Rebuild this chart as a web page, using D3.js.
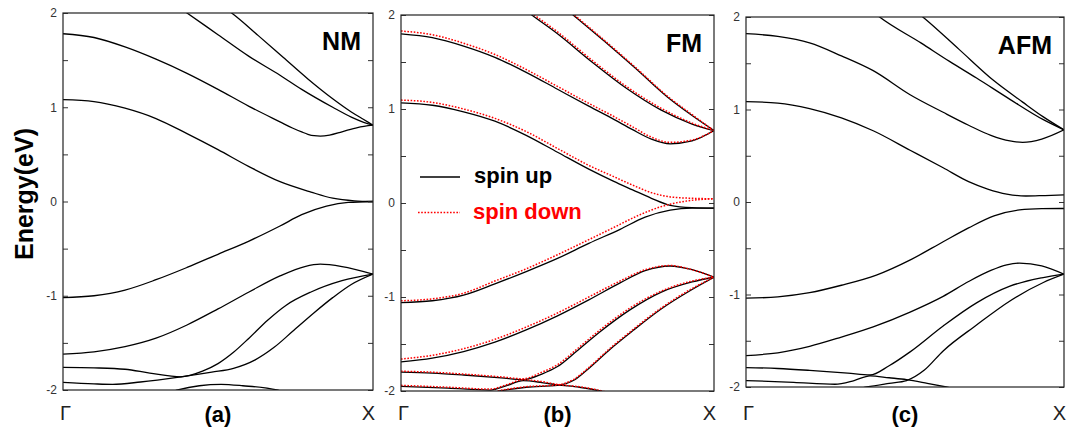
<!DOCTYPE html>
<html><head><meta charset="utf-8">
<script src="https://cdn.jsdelivr.net/npm/d3@7"></script>
<style>
html,body{margin:0;padding:0;background:#fff;}
svg{display:block;font-family:"Liberation Sans",Arial,sans-serif;}
</style></head>
<body><svg id="c" width="1067" height="430"></svg>
<script>
// ---------- data: [k (Γ=0 .. X=1), E (eV)] ----------
const yTicks = [-2,-1.5,-1,-0.5,0,0.5,1,1.5,2];
const kLabels = ["Γ","X"];
const panelNames = ["NM","FM","AFM"];
const panelTags = ["(a)","(b)","(c)"];
const legendLabels = ["spin up","spin down"];

const nmBands = [
 [[0,1.78],[0.1,1.74],[0.2,1.64],[0.3,1.51],[0.4,1.36],[0.5,1.19],[0.6,1.01],[0.7,0.845],[0.74,0.78],[0.77,0.738],[0.79,0.713],[0.81,0.698],[0.83,0.694],[0.86,0.705],[0.90,0.74],[0.95,0.785],[1,0.81]],
 [[0,1.08],[0.1,1.06],[0.2,0.99],[0.3,0.88],[0.4,0.72],[0.5,0.55],[0.6,0.37],[0.7,0.21],[0.8,0.10],[0.87,0.035],[0.94,0.007],[1,0]],
 [[0,-1.02],[0.1,-1.0],[0.2,-0.94],[0.3,-0.83],[0.4,-0.70],[0.5,-0.56],[0.6,-0.42],[0.7,-0.26],[0.77,-0.14],[0.85,-0.05],[0.92,-0.01],[1,0]],
 [[0,-1.62],[0.1,-1.595],[0.2,-1.54],[0.3,-1.45],[0.4,-1.31],[0.5,-1.14],[0.6,-0.96],[0.7,-0.79],[0.78,-0.69],[0.83,-0.665],[0.9,-0.69],[1,-0.77]],
 [[0,-1.76],[0.1,-1.765],[0.2,-1.78],[0.28,-1.82],[0.38,-1.86],[0.45,-1.80],[0.5,-1.72],[0.55,-1.60],[0.6,-1.45],[0.66,-1.26],[0.72,-1.10],[0.8,-0.96],[0.9,-0.84],[1,-0.77]],
 [[0,-1.92],[0.1,-1.935],[0.16,-1.94],[0.25,-1.915],[0.38,-1.86],[0.48,-1.81],[0.55,-1.77],[0.62,-1.68],[0.68,-1.55],[0.74,-1.38],[0.81,-1.18],[0.87,-1.02],[0.93,-0.88],[1,-0.77]],
 [[0.28,-2.1],[0.37,-2.0],[0.44,-1.955],[0.51,-1.94],[0.58,-1.955],[0.69,-2.0],[0.76,-2.07]],
 [[0.33,2.16],[0.40,2.0],[0.50,1.77],[0.60,1.54],[0.70,1.34],[0.77,1.19],[0.87,1.0],[0.93,0.895],[0.97,0.84],[1,0.81]],
 [[0.48,2.14],[0.544,2.0],[0.63,1.76],[0.71,1.53],[0.79,1.30],[0.87,1.09],[0.93,0.95],[0.97,0.87],[1,0.81]]
];

const fmUpBands = [
 [[0,1.80],[0.1,1.76],[0.2,1.67],[0.3,1.55],[0.4,1.39],[0.5,1.21],[0.6,1.03],[0.68,0.89],[0.74,0.78],[0.80,0.68],[0.86,0.63],[0.93,0.66],[1,0.77]],
 [[0,1.065],[0.1,1.04],[0.2,0.97],[0.3,0.87],[0.4,0.72],[0.5,0.54],[0.6,0.36],[0.68,0.23],[0.74,0.14],[0.80,0.05],[0.86,-0.025],[0.93,-0.05],[1,-0.055]],
 [[0,-1.06],[0.1,-1.04],[0.2,-0.98],[0.3,-0.86],[0.4,-0.73],[0.5,-0.59],[0.6,-0.43],[0.7,-0.28],[0.78,-0.15],[0.86,-0.075],[0.93,-0.055],[1,-0.055]],
 [[0,-1.69],[0.1,-1.65],[0.2,-1.58],[0.3,-1.48],[0.4,-1.35],[0.5,-1.20],[0.6,-1.03],[0.7,-0.85],[0.78,-0.72],[0.86,-0.67],[0.93,-0.71],[1,-0.79]],
 [[0,-1.80],[0.1,-1.81],[0.2,-1.83],[0.32,-1.86],[0.39,-1.88],[0.45,-1.82],[0.50,-1.74],[0.56,-1.58],[0.636,-1.37],[0.73,-1.14],[0.83,-0.95],[0.93,-0.84],[1,-0.79]],
 [[0,-1.95],[0.15,-1.97],[0.285,-1.99],[0.34,-1.94],[0.39,-1.89],[0.45,-1.91],[0.50,-1.935],[0.57,-1.96],[0.636,-2.0],[0.70,-2.05]],
 [[0.25,-2.06],[0.316,-2.0],[0.40,-1.96],[0.50,-1.94],[0.555,-1.88],[0.60,-1.76],[0.67,-1.55],[0.74,-1.36],[0.83,-1.13],[0.93,-0.92],[1,-0.79]],
 [[0.36,2.15],[0.418,2.0],[0.50,1.80],[0.61,1.50],[0.72,1.22],[0.83,0.99],[0.93,0.84],[1,0.77]],
 [[0.50,2.14],[0.55,2.0],[0.65,1.72],[0.75,1.43],[0.85,1.13],[0.93,0.93],[1,0.77]]
];

const fmDownBands = [
 [[0,1.83],[0.1,1.79],[0.2,1.70],[0.3,1.58],[0.4,1.42],[0.5,1.24],[0.6,1.06],[0.68,0.92],[0.74,0.81],[0.80,0.70],[0.86,0.645],[0.93,0.67],[1,0.77]],
 [[0,1.095],[0.1,1.07],[0.2,1.00],[0.3,0.90],[0.4,0.76],[0.5,0.58],[0.6,0.40],[0.68,0.28],[0.74,0.19],[0.80,0.11],[0.86,0.065],[0.93,0.05],[1,0.045]],
 [[0,-1.04],[0.1,-1.02],[0.2,-0.96],[0.3,-0.83],[0.4,-0.70],[0.5,-0.55],[0.6,-0.39],[0.68,-0.26],[0.76,-0.13],[0.83,-0.04],[0.91,0.02],[1,0.045]],
 [[0,-1.66],[0.1,-1.62],[0.2,-1.55],[0.3,-1.45],[0.4,-1.32],[0.5,-1.17],[0.6,-1.00],[0.7,-0.83],[0.78,-0.71],[0.86,-0.665],[0.93,-0.71],[1,-0.79]],
 [[0,-1.79],[0.1,-1.80],[0.2,-1.82],[0.32,-1.85],[0.39,-1.87],[0.45,-1.80],[0.50,-1.72],[0.56,-1.56],[0.636,-1.35],[0.73,-1.12],[0.83,-0.94],[0.93,-0.83],[1,-0.79]],
 [[0,-1.94],[0.15,-1.96],[0.285,-1.98],[0.34,-1.93],[0.39,-1.88],[0.45,-1.90],[0.50,-1.93],[0.57,-1.955],[0.636,-1.995],[0.70,-2.05]],
 [[0.25,-2.055],[0.316,-1.995],[0.40,-1.955],[0.50,-1.935],[0.555,-1.87],[0.60,-1.75],[0.67,-1.54],[0.74,-1.35],[0.83,-1.12],[0.93,-0.91],[1,-0.79]],
 [[0.36,2.17],[0.418,2.02],[0.50,1.82],[0.61,1.52],[0.72,1.24],[0.83,1.01],[0.93,0.85],[1,0.77]],
 [[0.50,2.15],[0.55,2.01],[0.65,1.73],[0.75,1.44],[0.85,1.14],[0.93,0.94],[1,0.77]]
];

const afmBands = [
 [[0,1.82],[0.1,1.79],[0.2,1.72],[0.3,1.58],[0.4,1.42],[0.516,1.16],[0.62,0.97],[0.70,0.83],[0.77,0.72],[0.83,0.66],[0.87,0.645],[0.93,0.68],[1,0.78]],
 [[0,1.086],[0.1,1.07],[0.2,1.01],[0.3,0.91],[0.4,0.77],[0.516,0.56],[0.62,0.37],[0.70,0.22],[0.76,0.14],[0.82,0.085],[0.88,0.065],[0.94,0.07],[1,0.076]],
 [[0,-1.04],[0.1,-1.025],[0.2,-0.98],[0.3,-0.90],[0.41,-0.79],[0.52,-0.62],[0.62,-0.43],[0.70,-0.28],[0.78,-0.15],[0.86,-0.085],[0.93,-0.072],[1,-0.07]],
 [[0,-1.66],[0.1,-1.63],[0.2,-1.56],[0.30,-1.46],[0.40,-1.35],[0.516,-1.19],[0.62,-1.02],[0.70,-0.86],[0.77,-0.74],[0.82,-0.68],[0.86,-0.66],[0.93,-0.69],[1,-0.78]],
 [[0,-1.79],[0.1,-1.80],[0.2,-1.82],[0.32,-1.85],[0.39,-1.87],[0.45,-1.77],[0.516,-1.62],[0.62,-1.34],[0.725,-1.09],[0.83,-0.91],[0.93,-0.82],[1,-0.78]],
 [[0,-1.93],[0.15,-1.95],[0.28,-1.97],[0.34,-1.93],[0.39,-1.88],[0.45,-1.90],[0.505,-1.92],[0.57,-1.96],[0.63,-2.0],[0.70,-2.05]],
 [[0.28,-2.07],[0.38,-2.0],[0.45,-1.96],[0.505,-1.93],[0.56,-1.82],[0.62,-1.61],[0.725,-1.33],[0.83,-1.07],[0.935,-0.87],[1,-0.78]],
 [[0.37,2.14],[0.42,2.0],[0.55,1.72],[0.64,1.52],[0.725,1.34],[0.83,1.11],[0.935,0.89],[1,0.78]],
 [[0.50,2.15],[0.556,2.0],[0.67,1.65],[0.78,1.31],[0.87,1.08],[0.935,0.92],[1,0.78]]
];

// ---------- layout ----------
const svg = d3.select("#c");
const panels = [
  {x0:63,  x1:373,  y0:13, y1:390, black:nmBands,  red:null},
  {x0:401, x1:714,  y0:15, y1:391, black:fmUpBands, red:fmDownBands},
  {x0:746, x1:1064, y0:17, y1:387, black:afmBands, red:null}
];

const RED = "#ff0000";

panels.forEach((p, i) => {
  const x = d3.scaleLinear().domain([0,1]).range([p.x0, p.x1]);
  const y = d3.scaleLinear().domain([-2,2]).range([p.y1, p.y0]);
  const g = svg.append("g");
  const clipId = "clip" + i;
  svg.append("defs").append("clipPath").attr("id", clipId)
    .append("rect").attr("x", p.x0).attr("y", p.y0)
    .attr("width", p.x1 - p.x0).attr("height", p.y1 - p.y0);

  const line = d3.line().x(d => x(d[0])).y(d => y(d[1])).curve(d3.curveMonotoneX);
  const lines = g.append("g").attr("clip-path", `url(#${clipId})`);
  lines.selectAll("path.b").data(p.black).join("path").attr("class","b")
    .attr("d", line).attr("fill","none").attr("stroke","#000").attr("stroke-width",1.3);
  if (p.red) {
    lines.selectAll("path.r").data(p.red).join("path").attr("class","r")
      .attr("d", line).attr("fill","none").attr("stroke",RED)
      .attr("stroke-width",1.5).attr("stroke-dasharray","1.6 1.6");
  }

  // axes
  const fmt = d => Number.isInteger(d) ? String(d) : "";
  const left = g.append("g").attr("transform", `translate(${p.x0},0)`)
    .call(d3.axisLeft(y).tickValues(yTicks).tickFormat(fmt).tickSizeInner(-5).tickSizeOuter(0).tickPadding(6));
  const right = g.append("g").attr("transform", `translate(${p.x1},0)`)
    .call(d3.axisRight(y).tickValues(yTicks).tickFormat("").tickSizeInner(-5).tickSizeOuter(0));
  [left, right].forEach(a => { a.select(".domain").remove(); a.selectAll("line").attr("stroke","#333"); });
  left.selectAll("text").attr("font-size", 12).attr("fill","#333")
    .attr("font-family","'Liberation Sans',Arial,sans-serif");

  g.append("rect").attr("x", p.x0).attr("y", p.y0)
    .attr("width", p.x1 - p.x0).attr("height", p.y1 - p.y0)
    .attr("fill","none").attr("stroke","#222").attr("stroke-width",1.2);

  // k labels
  g.append("text").attr("x", x(0) - 3).attr("y", 420).attr("font-size", 20)
    .attr("text-anchor","start").attr("fill","#222").text(kLabels[0]);
  g.append("text").attr("x", x(1) + 2).attr("y", 420).attr("font-size", 20)
    .attr("text-anchor","end").attr("fill","#222").text(kLabels[1]);
  // panel tag
  g.append("text").attr("x", (p.x0 + p.x1) / 2).attr("y", 422).attr("font-size", 22)
    .attr("font-weight","bold").attr("text-anchor","middle").text(panelTags[i]);
  // panel name
  g.append("text").attr("x", p.x1 - 12).attr("y", p.y0 + 37).attr("font-size", 25)
    .attr("font-weight","bold").attr("text-anchor","end").text(panelNames[i]);

  if (p.red) {
    const lg = g.append("g");
    lg.append("line").attr("x1", 420).attr("x2", 460).attr("y1", 177).attr("y2", 177)
      .attr("stroke","#000").attr("stroke-width",1.3);
    lg.append("text").attr("x", 474).attr("y", 183).attr("font-size", 22)
      .attr("font-weight","bold").text(legendLabels[0]);
    lg.append("line").attr("x1", 418).attr("x2", 460).attr("y1", 212.5).attr("y2", 212.5)
      .attr("stroke",RED).attr("stroke-width",1.5).attr("stroke-dasharray","1.6 1.6");
    lg.append("text").attr("x", 473).attr("y", 219).attr("font-size", 22)
      .attr("font-weight","bold").attr("fill",RED).text(legendLabels[1]);
  }
});

// y title
svg.append("text").attr("transform","translate(33,194) rotate(-90)")
  .attr("text-anchor","middle").attr("font-size",25).attr("font-weight","bold")
  .text("Energy(eV)");
</script></body></html>
